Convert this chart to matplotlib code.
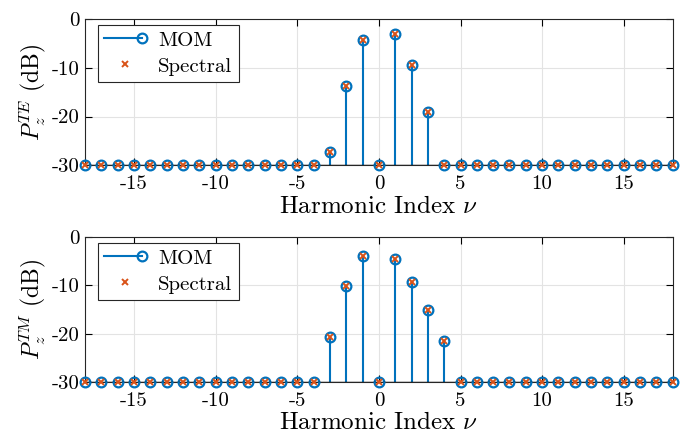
import matplotlib
matplotlib.use("Agg")
import matplotlib.pyplot as plt
import numpy as np
from matplotlib.legend_handler import HandlerLine2D
from matplotlib.lines import Line2D

plt.rcParams["font.family"] = "serif"
plt.rcParams["font.serif"] = ["cmr10"]
plt.rcParams["mathtext.fontset"] = "cm"
plt.rcParams["axes.unicode_minus"] = False
plt.rcParams["axes.formatter.use_mathtext"] = False

nu = np.arange(-18, 19)

# power per harmonic (dB), floor at -30
te_db = np.full(nu.shape, -30.0)
te_db[nu == -3] = -27.3
te_db[nu == -2] = -13.8
te_db[nu == -1] = -4.4
te_db[nu == 1] = -3.1
te_db[nu == 2] = -9.5
te_db[nu == 3] = -19.0

tm_db = np.full(nu.shape, -30.0)
tm_db[nu == -3] = -20.7
tm_db[nu == -2] = -10.2
tm_db[nu == -1] = -4.0
tm_db[nu == 1] = -4.6
tm_db[nu == 2] = -9.4
tm_db[nu == 3] = -15.2
tm_db[nu == 4] = -21.5

BLUE = "#0072BD"
ORANGE = "#D95319"


class StemHandler(HandlerLine2D):
    # MATLAB-style stem legend: line with the marker at the right end
    def create_artists(self, legend, orig_handle, xdescent, ydescent,
                       width, height, fontsize, trans):
        arts = super().create_artists(legend, orig_handle, xdescent, ydescent,
                                      width, height, fontsize, trans)
        for a in arts:
            x = np.asarray(a.get_xdata())
            y = np.asarray(a.get_ydata())
            a.set_data([x[0], x[-1] - 3], [y[0], y[0]])
            a.set_markevery([1])
        return arts


fig = plt.figure(figsize=(6.89, 4.43), dpi=100)
ax_top = fig.add_axes([0.1234, 0.627, 0.853, 0.330])
ax_bot = fig.add_axes([0.1234, 0.138, 0.853, 0.327])

for ax, vals, lab in [(ax_top, te_db, r"$P_z^{TE}$ (dB)"),
                      (ax_bot, tm_db, r"$P_z^{TM}$ (dB)")]:
    ml, sl, bl = ax.stem(nu, vals, bottom=-30, basefmt="k-")
    plt.setp(sl, color=BLUE, linewidth=1.5, clip_on=False)
    plt.setp(ml, marker="o", markersize=7, markerfacecolor="none",
             markeredgecolor=BLUE, markeredgewidth=1.6, clip_on=False,
             zorder=3)
    plt.setp(bl, linewidth=1.0, color="k", zorder=3.5)
    ax.plot(nu, vals, "x", color=ORANGE, markersize=4.5,
            markeredgewidth=1.4, zorder=4, clip_on=False)

    ax.set_xlim(-18, 18)
    ax.set_ylim(-30, 0)
    ax.set_xticks([-15, -10, -5, 0, 5, 10, 15])
    ax.set_yticks([-30, -20, -10, 0])
    ax.grid(True, color="#e3e3e3", linewidth=0.8)
    ax.set_axisbelow(True)
    ax.tick_params(direction="in", top=True, right=True, length=5,
                   labelsize=15, width=0.8)
    ax.tick_params(axis="x", pad=7)
    ax.tick_params(axis="y", pad=4)
    for s in ax.spines.values():
        s.set_linewidth(0.8)
        s.set_color("#262626")
    ax.set_ylabel(lab, fontsize=17, labelpad=2)
    ax.set_xlabel(r"Harmonic Index $\nu$", fontsize=18, labelpad=2)

    h_mom = Line2D([], [], color=BLUE, linewidth=1.5, marker="o",
                   markersize=7, markerfacecolor="none",
                   markeredgecolor=BLUE, markeredgewidth=1.6)
    h_spec = Line2D([], [], linestyle="none", marker="x", color=ORANGE,
                    markersize=4.5, markeredgewidth=1.4)
    leg = ax.legend([h_mom, h_spec], ["MOM", "Spectral"],
                    handler_map={h_mom: StemHandler(numpoints=1),
                                 h_spec: HandlerLine2D(numpoints=1)},
                    loc="upper left", bbox_to_anchor=(0.022, 0.96),
                    borderaxespad=0, fontsize=15, frameon=True,
                    fancybox=False, edgecolor="#262626", framealpha=1,
                    handlelength=2.0, handletextpad=0.6,
                    labelspacing=0.35, borderpad=0.3)
    leg.get_frame().set_linewidth(0.8)

fig.savefig("out.png", dpi=100)
